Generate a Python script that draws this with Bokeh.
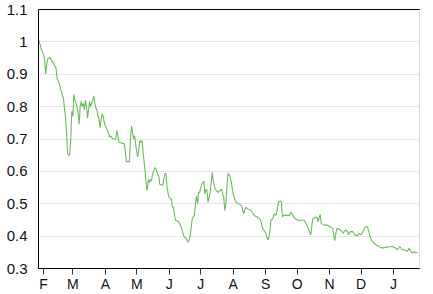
from datetime import datetime
import pandas as pd
from bokeh.plotting import figure
from bokeh.models import (Range1d, FixedTicker, CustomJSTickFormatter,
                          NumeralTickFormatter, LinearAxis)
from bokeh.embed import file_html
from bokeh.resources import INLINE

dates = [
    "2017-01-27", "2017-01-28", "2017-01-29", "2017-01-30", "2017-01-31",
    "2017-02-01", "2017-02-02", "2017-02-03", "2017-02-04", "2017-02-05",
    "2017-02-07", "2017-02-09", "2017-02-11", "2017-02-12", "2017-02-13",
    "2017-02-14", "2017-02-16", "2017-02-18", "2017-02-20", "2017-02-22",
    "2017-02-23", "2017-02-24", "2017-02-25", "2017-02-26", "2017-02-27",
    "2017-02-28", "2017-03-01", "2017-03-02", "2017-03-03", "2017-03-04",
    "2017-03-05", "2017-03-06", "2017-03-07", "2017-03-08", "2017-03-09",
    "2017-03-10", "2017-03-11", "2017-03-12", "2017-03-13", "2017-03-14",
    "2017-03-15", "2017-03-16", "2017-03-17", "2017-03-18", "2017-03-19",
    "2017-03-20", "2017-03-21", "2017-03-22", "2017-03-23", "2017-03-24",
    "2017-03-25", "2017-03-26", "2017-03-27", "2017-03-28", "2017-03-29",
    "2017-03-30", "2017-03-31", "2017-04-01", "2017-04-02", "2017-04-03",
    "2017-04-04", "2017-04-05", "2017-04-06", "2017-04-07", "2017-04-08",
    "2017-04-10", "2017-04-11", "2017-04-12", "2017-04-13", "2017-04-14",
    "2017-04-16", "2017-04-18", "2017-04-19", "2017-04-20", "2017-04-21",
    "2017-04-24", "2017-04-25", "2017-04-26", "2017-04-27", "2017-04-28",
    "2017-04-29", "2017-04-30", "2017-05-01", "2017-05-02", "2017-05-03",
    "2017-05-04", "2017-05-05", "2017-05-06", "2017-05-07", "2017-05-08",
    "2017-05-09", "2017-05-10", "2017-05-11", "2017-05-12", "2017-05-13",
    "2017-05-14", "2017-05-15", "2017-05-16", "2017-05-17", "2017-05-18",
    "2017-05-19", "2017-05-20", "2017-05-21", "2017-05-22", "2017-05-23",
    "2017-05-25", "2017-05-26", "2017-05-27", "2017-05-28", "2017-05-29",
    "2017-05-30", "2017-05-31", "2017-06-01", "2017-06-03", "2017-06-04",
    "2017-06-05", "2017-06-06", "2017-06-07", "2017-06-09", "2017-06-10",
    "2017-06-11", "2017-06-12", "2017-06-13", "2017-06-14", "2017-06-15",
    "2017-06-16", "2017-06-17", "2017-06-18", "2017-06-19", "2017-06-20",
    "2017-06-21", "2017-06-22", "2017-06-23", "2017-06-24", "2017-06-25",
    "2017-06-26", "2017-06-27", "2017-06-28", "2017-06-29", "2017-06-30",
    "2017-07-01", "2017-07-02", "2017-07-03", "2017-07-04", "2017-07-05",
    "2017-07-06", "2017-07-07", "2017-07-08", "2017-07-09", "2017-07-10",
    "2017-07-11", "2017-07-12", "2017-07-13", "2017-07-14", "2017-07-15",
    "2017-07-16", "2017-07-18", "2017-07-19", "2017-07-21", "2017-07-22",
    "2017-07-23", "2017-07-24", "2017-07-25", "2017-07-26", "2017-07-27",
    "2017-07-28", "2017-07-29", "2017-07-30", "2017-07-31", "2017-08-01",
    "2017-08-02", "2017-08-03", "2017-08-04", "2017-08-06", "2017-08-07",
    "2017-08-09", "2017-08-10", "2017-08-11", "2017-08-12", "2017-08-13",
    "2017-08-15", "2017-08-18", "2017-08-20", "2017-08-21", "2017-08-24",
    "2017-08-26", "2017-08-27", "2017-08-28", "2017-08-29", "2017-08-31",
    "2017-09-01", "2017-09-02", "2017-09-03", "2017-09-04", "2017-09-05",
    "2017-09-06", "2017-09-08", "2017-09-09", "2017-09-11", "2017-09-12",
    "2017-09-13", "2017-09-15", "2017-09-16", "2017-09-17", "2017-09-18",
    "2017-09-24", "2017-09-25", "2017-09-26", "2017-09-27", "2017-09-29",
    "2017-10-02", "2017-10-08", "2017-10-09", "2017-10-11", "2017-10-12",
    "2017-10-14", "2017-10-15", "2017-10-16", "2017-10-19", "2017-10-20",
    "2017-10-21", "2017-10-22", "2017-10-23", "2017-10-24", "2017-10-27",
    "2017-10-30", "2017-11-01", "2017-11-04", "2017-11-05", "2017-11-06",
    "2017-11-07", "2017-11-08", "2017-11-11", "2017-11-13", "2017-11-14",
    "2017-11-16", "2017-11-18", "2017-11-19", "2017-11-21", "2017-11-23",
    "2017-11-25", "2017-11-27", "2017-11-29", "2017-12-01", "2017-12-03",
    "2017-12-05", "2017-12-07", "2017-12-08", "2017-12-09", "2017-12-10",
    "2017-12-11", "2017-12-13", "2017-12-15", "2017-12-17", "2017-12-19",
    "2017-12-21", "2017-12-25", "2017-12-29", "2017-12-31", "2018-01-02",
    "2018-01-05", "2018-01-07", "2018-01-09", "2018-01-12", "2018-01-14",
    "2018-01-16", "2018-01-17", "2018-01-19", "2018-01-21", "2018-01-22",
    "2018-01-24",
]

values = [
    1.01, 1.00, 0.99, 0.975, 0.97,
    0.958, 0.95, 0.90, 0.93, 0.947,
    0.952, 0.942, 0.932, 0.925, 0.917,
    0.887, 0.871, 0.846, 0.826, 0.766,
    0.72, 0.655, 0.65, 0.65, 0.70,
    0.786, 0.77, 0.838, 0.82, 0.811,
    0.80, 0.78, 0.746, 0.80, 0.816,
    0.80, 0.81, 0.79, 0.82, 0.80,
    0.765, 0.79, 0.816, 0.80, 0.81,
    0.82, 0.833, 0.81, 0.796, 0.79,
    0.771, 0.76, 0.735, 0.76, 0.778,
    0.77, 0.75, 0.741, 0.735, 0.726,
    0.72, 0.705, 0.71, 0.705, 0.70,
    0.70, 0.70, 0.726, 0.71, 0.69,
    0.688, 0.687, 0.685, 0.665, 0.63,
    0.63, 0.70, 0.741, 0.72, 0.70,
    0.71, 0.68, 0.66, 0.645, 0.67,
    0.695, 0.69, 0.695, 0.66, 0.63,
    0.60, 0.56, 0.54, 0.575, 0.565,
    0.575, 0.57, 0.59, 0.60, 0.61,
    0.61, 0.60, 0.59, 0.585, 0.56,
    0.557, 0.56, 0.58, 0.595, 0.59,
    0.55, 0.53, 0.519, 0.514, 0.49,
    0.489, 0.464, 0.449, 0.446, 0.444,
    0.439, 0.43, 0.424, 0.41, 0.399,
    0.395, 0.394, 0.385, 0.381, 0.39,
    0.40, 0.43, 0.454, 0.46, 0.464,
    0.50, 0.524, 0.50, 0.535, 0.535,
    0.55, 0.56, 0.565, 0.57, 0.53,
    0.545, 0.54, 0.505, 0.52, 0.535,
    0.565, 0.597, 0.57, 0.555, 0.545,
    0.54, 0.535, 0.54, 0.545, 0.53,
    0.52, 0.479, 0.50, 0.55, 0.593,
    0.59, 0.585, 0.57, 0.55, 0.53,
    0.519, 0.51, 0.504, 0.50, 0.499,
    0.494, 0.48, 0.469, 0.48, 0.489,
    0.484, 0.479, 0.47, 0.464, 0.459,
    0.454, 0.449, 0.44, 0.424, 0.415,
    0.409, 0.40, 0.389, 0.395, 0.414,
    0.449, 0.455, 0.469, 0.464, 0.48,
    0.504, 0.509, 0.506, 0.459, 0.464,
    0.464, 0.474, 0.47, 0.464, 0.454,
    0.449, 0.449, 0.44, 0.43, 0.42,
    0.404, 0.43, 0.454, 0.459, 0.458,
    0.444, 0.455, 0.467, 0.439, 0.434,
    0.434, 0.43, 0.424, 0.40, 0.386,
    0.409, 0.424, 0.42, 0.414, 0.409,
    0.419, 0.415, 0.404, 0.414, 0.414,
    0.405, 0.399, 0.409, 0.404, 0.415,
    0.429, 0.429, 0.42, 0.405, 0.395,
    0.389, 0.38, 0.373, 0.37, 0.366,
    0.363, 0.366, 0.367, 0.368, 0.365,
    0.358, 0.368, 0.36, 0.356, 0.353,
    0.363, 0.355, 0.348, 0.352, 0.348,
    0.35,
]

month_ticks = ["2017-02-01", "2017-03-01", "2017-04-01", "2017-05-01",
               "2017-06-01", "2017-07-01", "2017-08-01", "2017-09-01",
               "2017-10-01", "2017-11-01", "2017-12-01", "2018-01-01"]
y_ticks = [0.3, 0.4, 0.5, 0.6, 0.7, 0.8, 0.9, 1.0, 1.1]

x = pd.to_datetime(dates)
tick_ms = [pd.Timestamp(d).value / 1e6 for d in month_ticks]

FONT = "Liberation Sans"

p = figure(width=433, height=294, output_backend="svg", toolbar_location=None,
           x_axis_type="datetime",
           x_range=Range1d(datetime(2017, 1, 27, 5, 30), datetime(2018, 1, 25, 19, 0)),
           y_range=Range1d(0.3, 1.1),
           min_border_left=38, min_border_right=14, min_border_top=9,
           min_border_bottom=23)

p.line(x, values, line_color="#6cbb5f", line_width=1.1)

p.background_fill_color = "white"
p.border_fill_color = "white"
p.outline_line_color = "#dedede"
p.outline_line_width = 1

p.xgrid.visible = False
p.ygrid.ticker = FixedTicker(ticks=y_ticks)
p.ygrid.grid_line_color = "#e6e6e6"
p.ygrid.grid_line_width = 1

# y axis
ya = p.yaxis[0]
ya.ticker = FixedTicker(ticks=y_ticks)
ya.formatter = NumeralTickFormatter(format="0.[0]")
ya.axis_line_color = "black"
ya.axis_line_width = 1
ya.major_tick_out = 0
ya.major_tick_in = 0
ya.minor_tick_out = 0
ya.minor_tick_in = 0
ya.major_label_standoff = 11
ya.major_label_text_font = FONT
ya.major_label_text_font_size = "15px"
ya.major_label_text_color = "#111111"

# x axis
xa = p.xaxis[0]
xa.ticker = FixedTicker(ticks=tick_ms)
xa.formatter = CustomJSTickFormatter(
    code='return "JFMAMJJASOND"[new Date(tick).getUTCMonth()];')
xa.axis_line_color = "black"
xa.axis_line_width = 1
xa.major_tick_out = 6
xa.major_tick_in = 0
xa.major_tick_line_color = "#333333"
xa.minor_tick_out = 0
xa.minor_tick_in = 0
xa.major_label_standoff = 1
xa.major_label_text_font = FONT
xa.major_label_text_font_size = "14px"
xa.major_label_text_color = "#111111"

# top frame line
top = LinearAxis(ticker=FixedTicker(ticks=[]), axis_line_color="black",
                 major_tick_out=0, major_tick_in=0, minor_tick_out=0,
                 minor_tick_in=0, major_label_text_font_size="0px",
                 major_label_standoff=0)
p.add_layout(top, "above")

open("out.html", "w").write(file_html(p, INLINE))
